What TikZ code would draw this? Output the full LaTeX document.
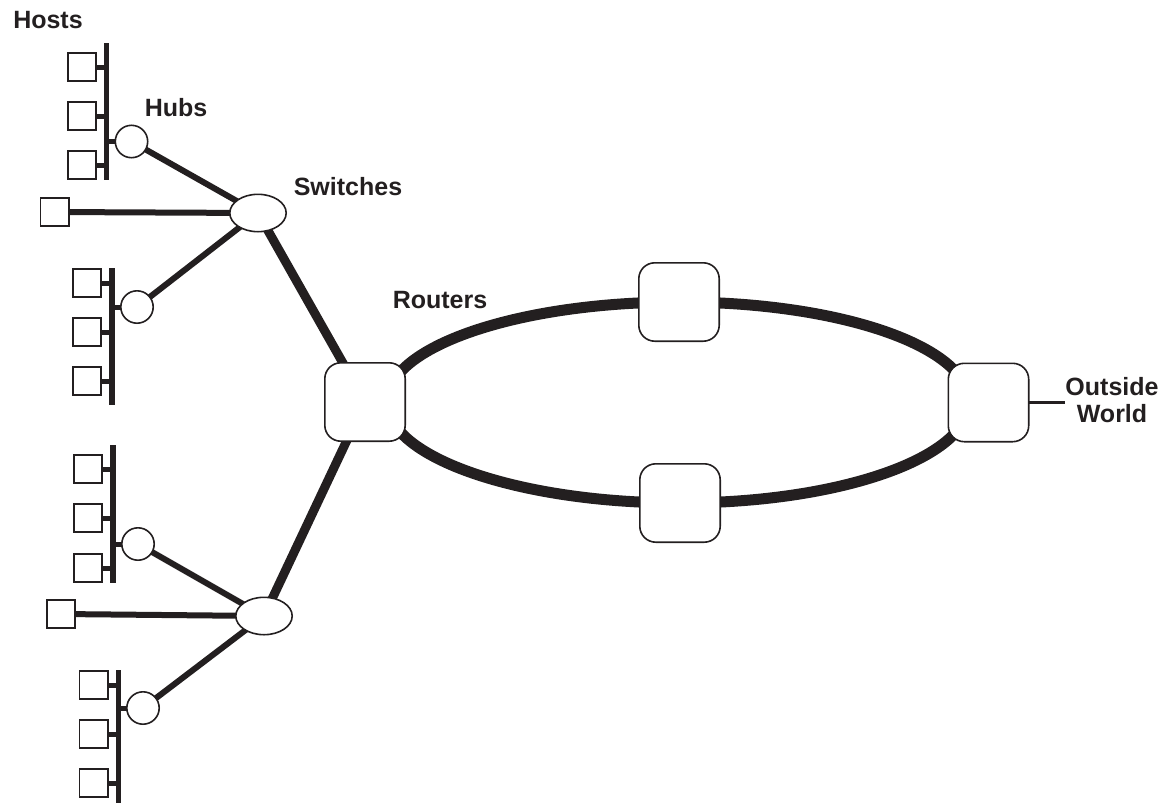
\documentclass[tikz,border=0pt]{standalone}
\usepackage{fontspec}
\setmainfont{Liberation Sans}
\usetikzlibrary{shapes.geometric}
\pgfdeclarelayer{bg}
\pgfsetlayers{bg,main}
\definecolor{ink}{RGB}{35,31,32}
\begin{document}
\begin{tikzpicture}[x=1pt,y=-1pt,
 host/.style={draw=ink, fill=white, line width=1.6pt, minimum size=28.4pt, inner sep=0pt},
 hub/.style={circle, draw=ink, fill=white, line width=1.6pt, minimum size=32.4pt, inner sep=0pt},
 switchn/.style={ellipse, draw=ink, fill=white, line width=1.6pt, minimum width=56.4pt, minimum height=37.4pt, inner sep=0pt},
 router/.style={draw=ink, fill=white, line width=1.6pt, rounded corners=16pt, minimum width=80.4pt, minimum height=78.4pt, inner sep=0pt},
 bus/.style={fill=ink, minimum width=5.5pt, inner sep=0pt},
 stub/.style={draw=ink, line width=5pt},
 lan/.style={draw=ink, line width=6pt},
 trunk/.style={draw=ink, line width=9pt},
 ring/.style={draw=ink, line width=11pt},
 ext/.style={draw=ink, line width=3pt},
 lbl/.style={text=ink, font=\fontsize{25}{26.5}\selectfont\bfseries, inner sep=0pt, align=center},
]
\useasboundingbox (0,0) rectangle (1164,806);

% buses
\node[bus, minimum height=137pt] (b1) at (106.5,111.5) {};
\node[bus, minimum height=137pt] (b2) at (112,336.5) {};
\node[bus, minimum height=138pt] (b3) at (113,514) {};
\node[bus, minimum height=133pt] (b4) at (118.5,736.5) {};

% hosts
\node[host] (h11) at (82,67) {};
\node[host] (h12) at (82,116) {};
\node[host] (h13) at (82,165) {};
\node[host] (h21) at (87,283) {};
\node[host] (h22) at (87,332) {};
\node[host] (h23) at (87,381) {};
\node[host] (h31) at (88,469) {};
\node[host] (h32) at (88,518) {};
\node[host] (h33) at (88,568) {};
\node[host] (h41) at (93.5,685) {};
\node[host] (h42) at (93.5,734) {};
\node[host] (h43) at (93.5,783) {};
\node[host] (s1) at (54.5,212) {};
\node[host] (s2) at (61,614) {};

% hubs
\node[hub] (u1) at (131.5,141.5) {};
\node[hub] (u2) at (137,307) {};
\node[hub] (u3) at (138,544) {};
\node[hub] (u4) at (143,708) {};

% switches
\node[switchn] (sw1) at (258,213) {};
\node[switchn] (sw2) at (264,616) {};

% routers
\node[router] (r1) at (365,402) {};
\node[router] (rt) at (679,302) {};
\node[router] (rb) at (680,503) {};
\node[router] (rr) at (988.5,402.5) {};
\coordinate (ringW) at (387,402);
\coordinate (ringE) at (969,402);

% labels
\node[lbl] (lhosts) at (48,20.5) {Hosts};
\node[lbl] (lhubs) at (176,108) {Hubs};
\node[lbl] (lsw) at (348,187) {Switches};
\node[lbl] (lrt) at (440,300) {Routers};
\node[lbl] (low) at (1112,400) {Outside\\World};

\begin{pgfonlayer}{bg}
% host stubs
\foreach \h/\b in {h11/b1,h12/b1,h13/b1,h21/b2,h22/b2,h23/b2,h31/b3,h32/b3,h33/b3,h41/b4,h42/b4,h43/b4}
  \draw[stub] (\h.center) -- (\h -| \b.center);
\foreach \u/\b in {u1/b1,u2/b2,u3/b3,u4/b4}
  \draw[stub] (\b.center |- \u) -- (\u.center);
% LAN links
\draw[lan] (u1.center) -- (sw1.center);
\draw[lan] (u2.center) -- (sw1.center);
\draw[lan] (s1.center) -- (sw1.center);
\draw[lan] (u3.center) -- (sw2.center);
\draw[lan] (u4.center) -- (sw2.center);
\draw[lan] (s2.center) -- (sw2.center);
% trunks
\draw[trunk] (sw1.center) -- (r1.center);
\draw[trunk] (sw2.center) -- (r1.center);
% ring
\draw[ring] (ringW) .. controls +(0,-55.5) and +(-160.7,0) .. (rt.center);
\draw[ring] (rt.center) .. controls +(160.7,0) and +(0,-55.5) .. (ringE);
\draw[ring] (ringW) .. controls +(0,55.5) and +(-160.7,0) .. (rb.center);
\draw[ring] (rb.center) .. controls +(160.7,0) and +(0,55.5) .. (ringE);
% outside
\draw[ext] (rr.center) -- (rr -| low.west);
\end{pgfonlayer}
\end{tikzpicture}
\end{document}
